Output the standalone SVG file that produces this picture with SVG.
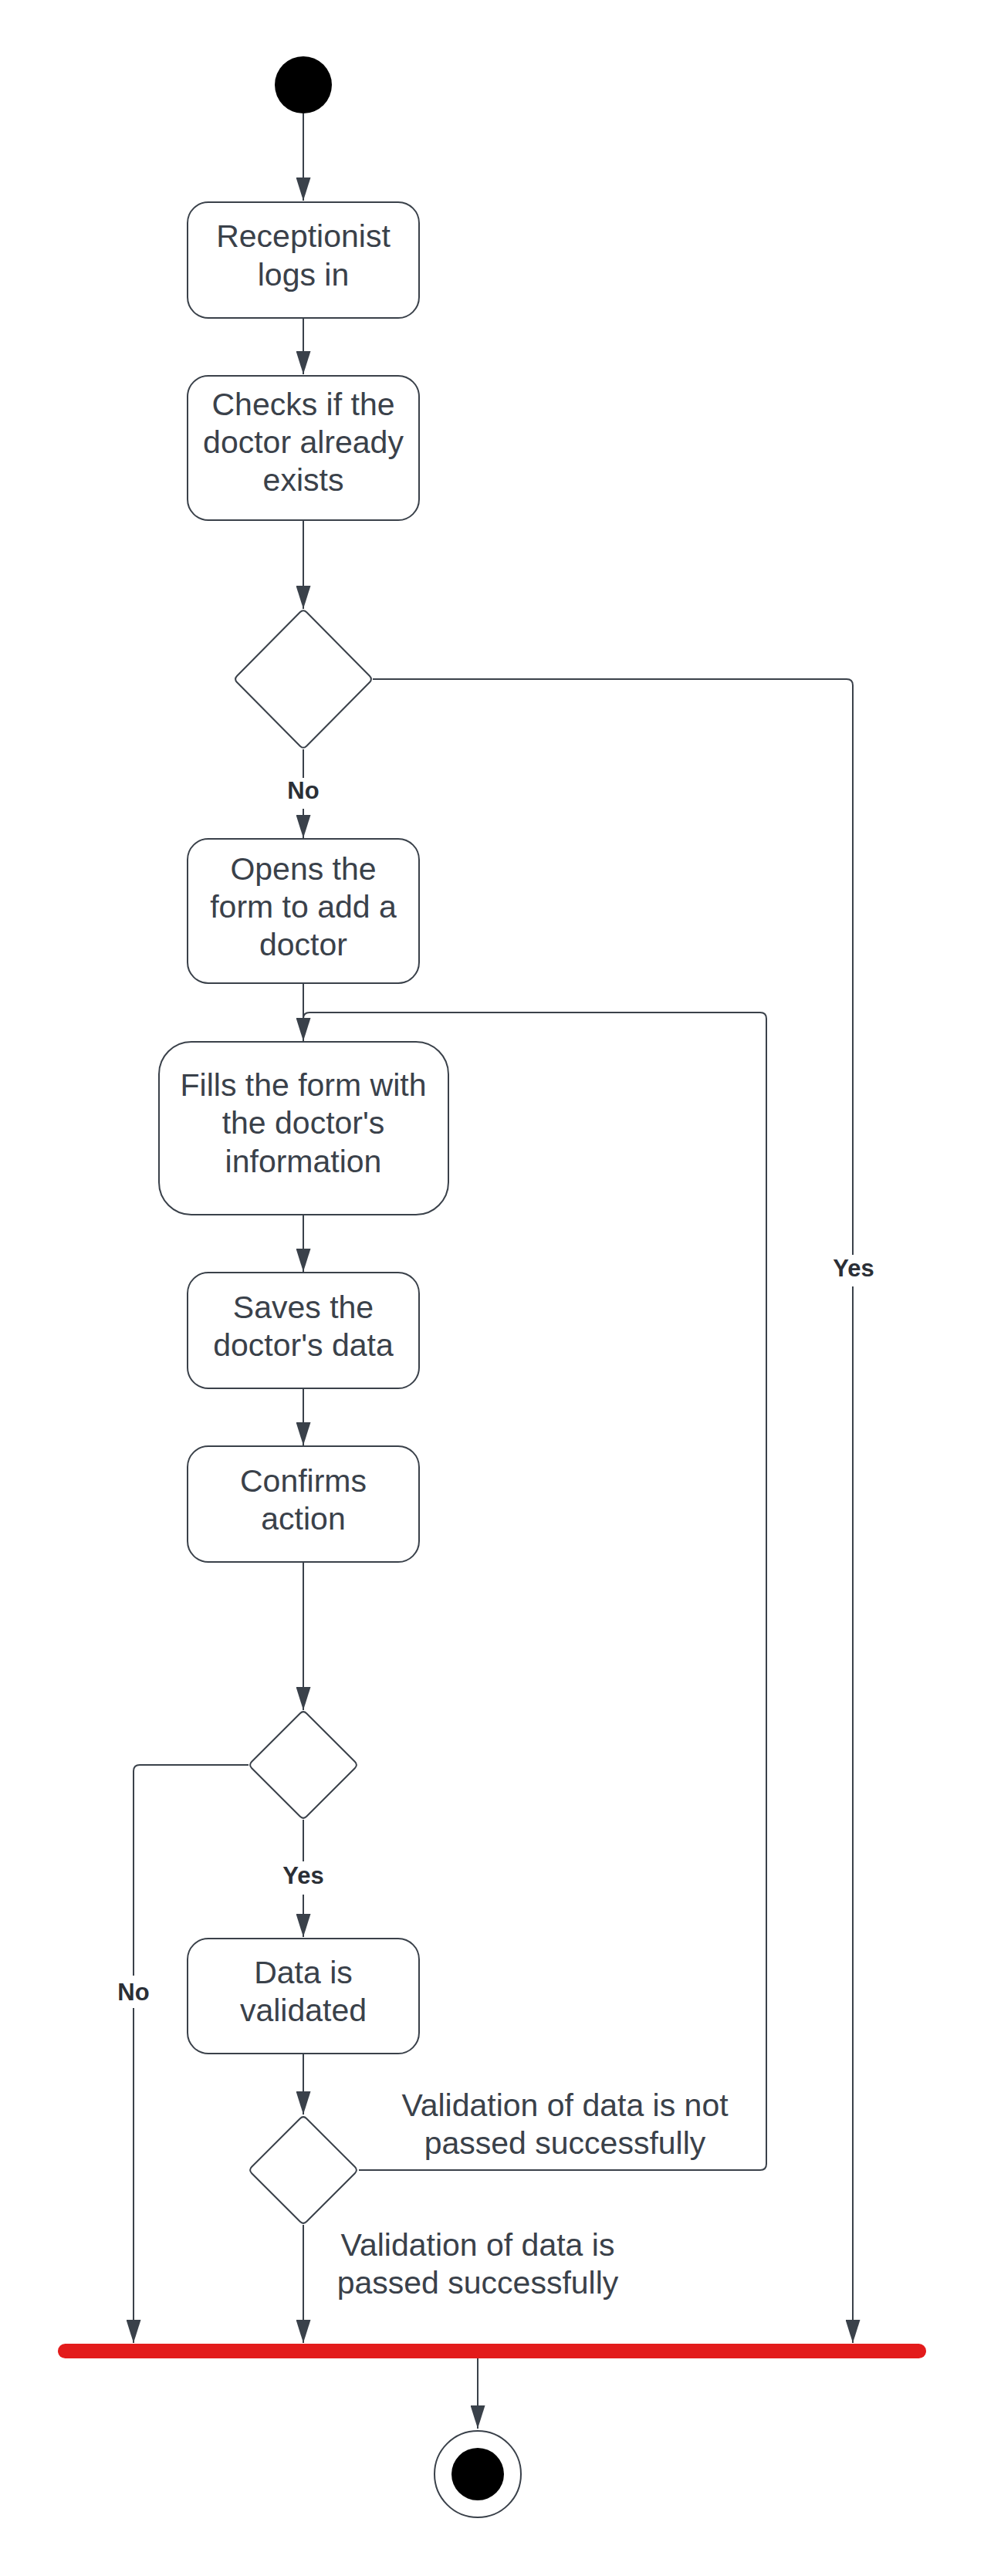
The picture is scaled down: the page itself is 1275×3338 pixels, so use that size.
<svg xmlns="http://www.w3.org/2000/svg" width="1275" height="3338" viewBox="0 0 1275 3338">
  <style>
    .node { fill: #ffffff; stroke: #3a414a; stroke-width: 2; }
    .txt { font-family: "Liberation Sans", Arial, sans-serif; font-size: 41px; fill: #3a414a; text-anchor: middle; }
    .lbl { font-family: "Liberation Sans", Arial, sans-serif; font-size: 31px; font-weight: bold; fill: #2b2f36; text-anchor: middle; }
    .edge { fill: none; stroke: #3a414a; stroke-width: 2; }
    .gap { fill: #ffffff; stroke: none; }
  </style>
  <defs>
    <marker id="arrow" viewBox="0 0 30 19" refX="30" refY="9.5" markerWidth="30" markerHeight="19" markerUnits="userSpaceOnUse" orient="auto">
      <path d="M0,0 L30,9.5 L0,19 Z" fill="#3a414a"/>
    </marker>
  </defs>
  <rect x="0" y="0" width="1275" height="3338" fill="#ffffff"/>

  <g id="connectors">
    <path class="edge" d="M393,147 V260" marker-end="url(#arrow)"/>
    <path class="edge" d="M393,412 V485" marker-end="url(#arrow)"/>
    <path class="edge" d="M393,674 V789" marker-end="url(#arrow)"/>
    <path class="edge" d="M393,971 V1086" marker-end="url(#arrow)"/>
    <path class="edge" d="M483,880 H1097 Q1105,880 1105,888 V3036" marker-end="url(#arrow)"/>
    <path class="edge" d="M393,1274 V1349" marker-end="url(#arrow)"/>
    <path class="edge" d="M465,2812 H985 Q993,2812 993,2804 V1320 Q993,1312 985,1312 H401 Q393,1312 393,1320"/>
    <path class="edge" d="M393,1574 V1648" marker-end="url(#arrow)"/>
    <path class="edge" d="M393,1799 V1873" marker-end="url(#arrow)"/>
    <path class="edge" d="M393,2024 V2216" marker-end="url(#arrow)"/>
    <path class="edge" d="M322,2287 H181 Q173,2287 173,2295 V3036" marker-end="url(#arrow)"/>
    <path class="edge" d="M393,2358 V2510" marker-end="url(#arrow)"/>
    <path class="edge" d="M393,2661 V2740" marker-end="url(#arrow)"/>
    <path class="edge" d="M393,2883 V3036" marker-end="url(#arrow)"/>
    <path class="edge" d="M619,3056 V3147" marker-end="url(#arrow)"/>

    <rect class="gap" x="366" y="1008" width="54" height="40"/>
    <text class="lbl" x="393" y="1035">No</text>
    <rect class="gap" x="1074" y="1626" width="64" height="41"/>
    <text class="lbl" x="1106" y="1654">Yes</text>
    <rect class="gap" x="361" y="2412" width="64" height="43"/>
    <text class="lbl" x="393" y="2441">Yes</text>
    <rect class="gap" x="146" y="2560" width="54" height="42"/>
    <text class="lbl" x="173" y="2592">No</text>

    <text class="txt" x="732" y="2742">Validation of data is not</text>
    <text class="txt" x="732" y="2791">passed successfully</text>
    <text class="txt" x="619" y="2923">Validation of data is</text>
    <text class="txt" x="619" y="2972">passed successfully</text>
  </g>

  <g id="start">
    <circle cx="393" cy="110" r="37" fill="#000000"/>
  </g>

  <g id="receptionist-logs-in">
    <rect class="node" x="243" y="262" width="300" height="150" rx="27" ry="27"/>
    <text class="txt" x="393" y="320">Receptionist</text>
    <text class="txt" x="393" y="370">logs in</text>
  </g>

  <g id="checks-doctor-exists">
    <rect class="node" x="243" y="487" width="300" height="187" rx="27" ry="27"/>
    <text class="txt" x="393" y="538">Checks if the</text>
    <text class="txt" x="393" y="587">doctor already</text>
    <text class="txt" x="393" y="636">exists</text>
  </g>

  <g id="decision-exists">
    <path class="node" d="M397.2,793.3 L478.8,875.7 Q483,880 478.8,884.3 L397.2,966.7 Q393,971 388.8,966.7 L307.2,884.3 Q303,880 307.2,875.7 L388.8,793.3 Q393,789 397.2,793.3 Z"/>
  </g>

  <g id="opens-form">
    <rect class="node" x="243" y="1087" width="300" height="187" rx="27" ry="27"/>
    <text class="txt" x="393" y="1140">Opens the</text>
    <text class="txt" x="393" y="1189">form to add a</text>
    <text class="txt" x="393" y="1238">doctor</text>
  </g>

  <g id="fills-form">
    <rect class="node" x="206" y="1350" width="375" height="224" rx="42" ry="42"/>
    <text class="txt" x="393" y="1420">Fills the form with</text>
    <text class="txt" x="393" y="1469">the doctor's</text>
    <text class="txt" x="393" y="1519">information</text>
  </g>

  <g id="saves-data">
    <rect class="node" x="243" y="1649" width="300" height="150" rx="27" ry="27"/>
    <text class="txt" x="393" y="1708">Saves the</text>
    <text class="txt" x="393" y="1757">doctor's data</text>
  </g>

  <g id="confirms-action">
    <rect class="node" x="243" y="1874" width="300" height="150" rx="27" ry="27"/>
    <text class="txt" x="393" y="1933">Confirms</text>
    <text class="txt" x="393" y="1982">action</text>
  </g>

  <g id="decision-confirm">
    <path class="node" d="M397.2,2220.2 L459.8,2282.8 Q464,2287 459.8,2291.2 L397.2,2353.8 Q393,2358 388.8,2353.8 L326.2,2291.2 Q322,2287 326.2,2282.8 L388.8,2220.2 Q393,2216 397.2,2220.2 Z"/>
  </g>

  <g id="data-validated">
    <rect class="node" x="243" y="2512" width="300" height="149" rx="27" ry="27"/>
    <text class="txt" x="393" y="2570">Data is</text>
    <text class="txt" x="393" y="2619">validated</text>
  </g>

  <g id="decision-validation">
    <path class="node" d="M397.2,2745.2 L459.8,2807.8 Q464,2812 459.8,2816.2 L397.2,2878.8 Q393,2883 388.8,2878.8 L326.2,2816.2 Q322,2812 326.2,2807.8 L388.8,2745.2 Q393,2741 397.2,2745.2 Z"/>
  </g>

  <g id="join-bar">
    <rect x="75" y="3037" width="1125" height="19" rx="9.5" ry="9.5" fill="#e31b1b"/>
  </g>

  <g id="end">
    <circle cx="619" cy="3206" r="56" fill="#ffffff" stroke="#3a414a" stroke-width="2"/>
    <circle cx="619" cy="3206" r="34" fill="#000000"/>
  </g>
</svg>
